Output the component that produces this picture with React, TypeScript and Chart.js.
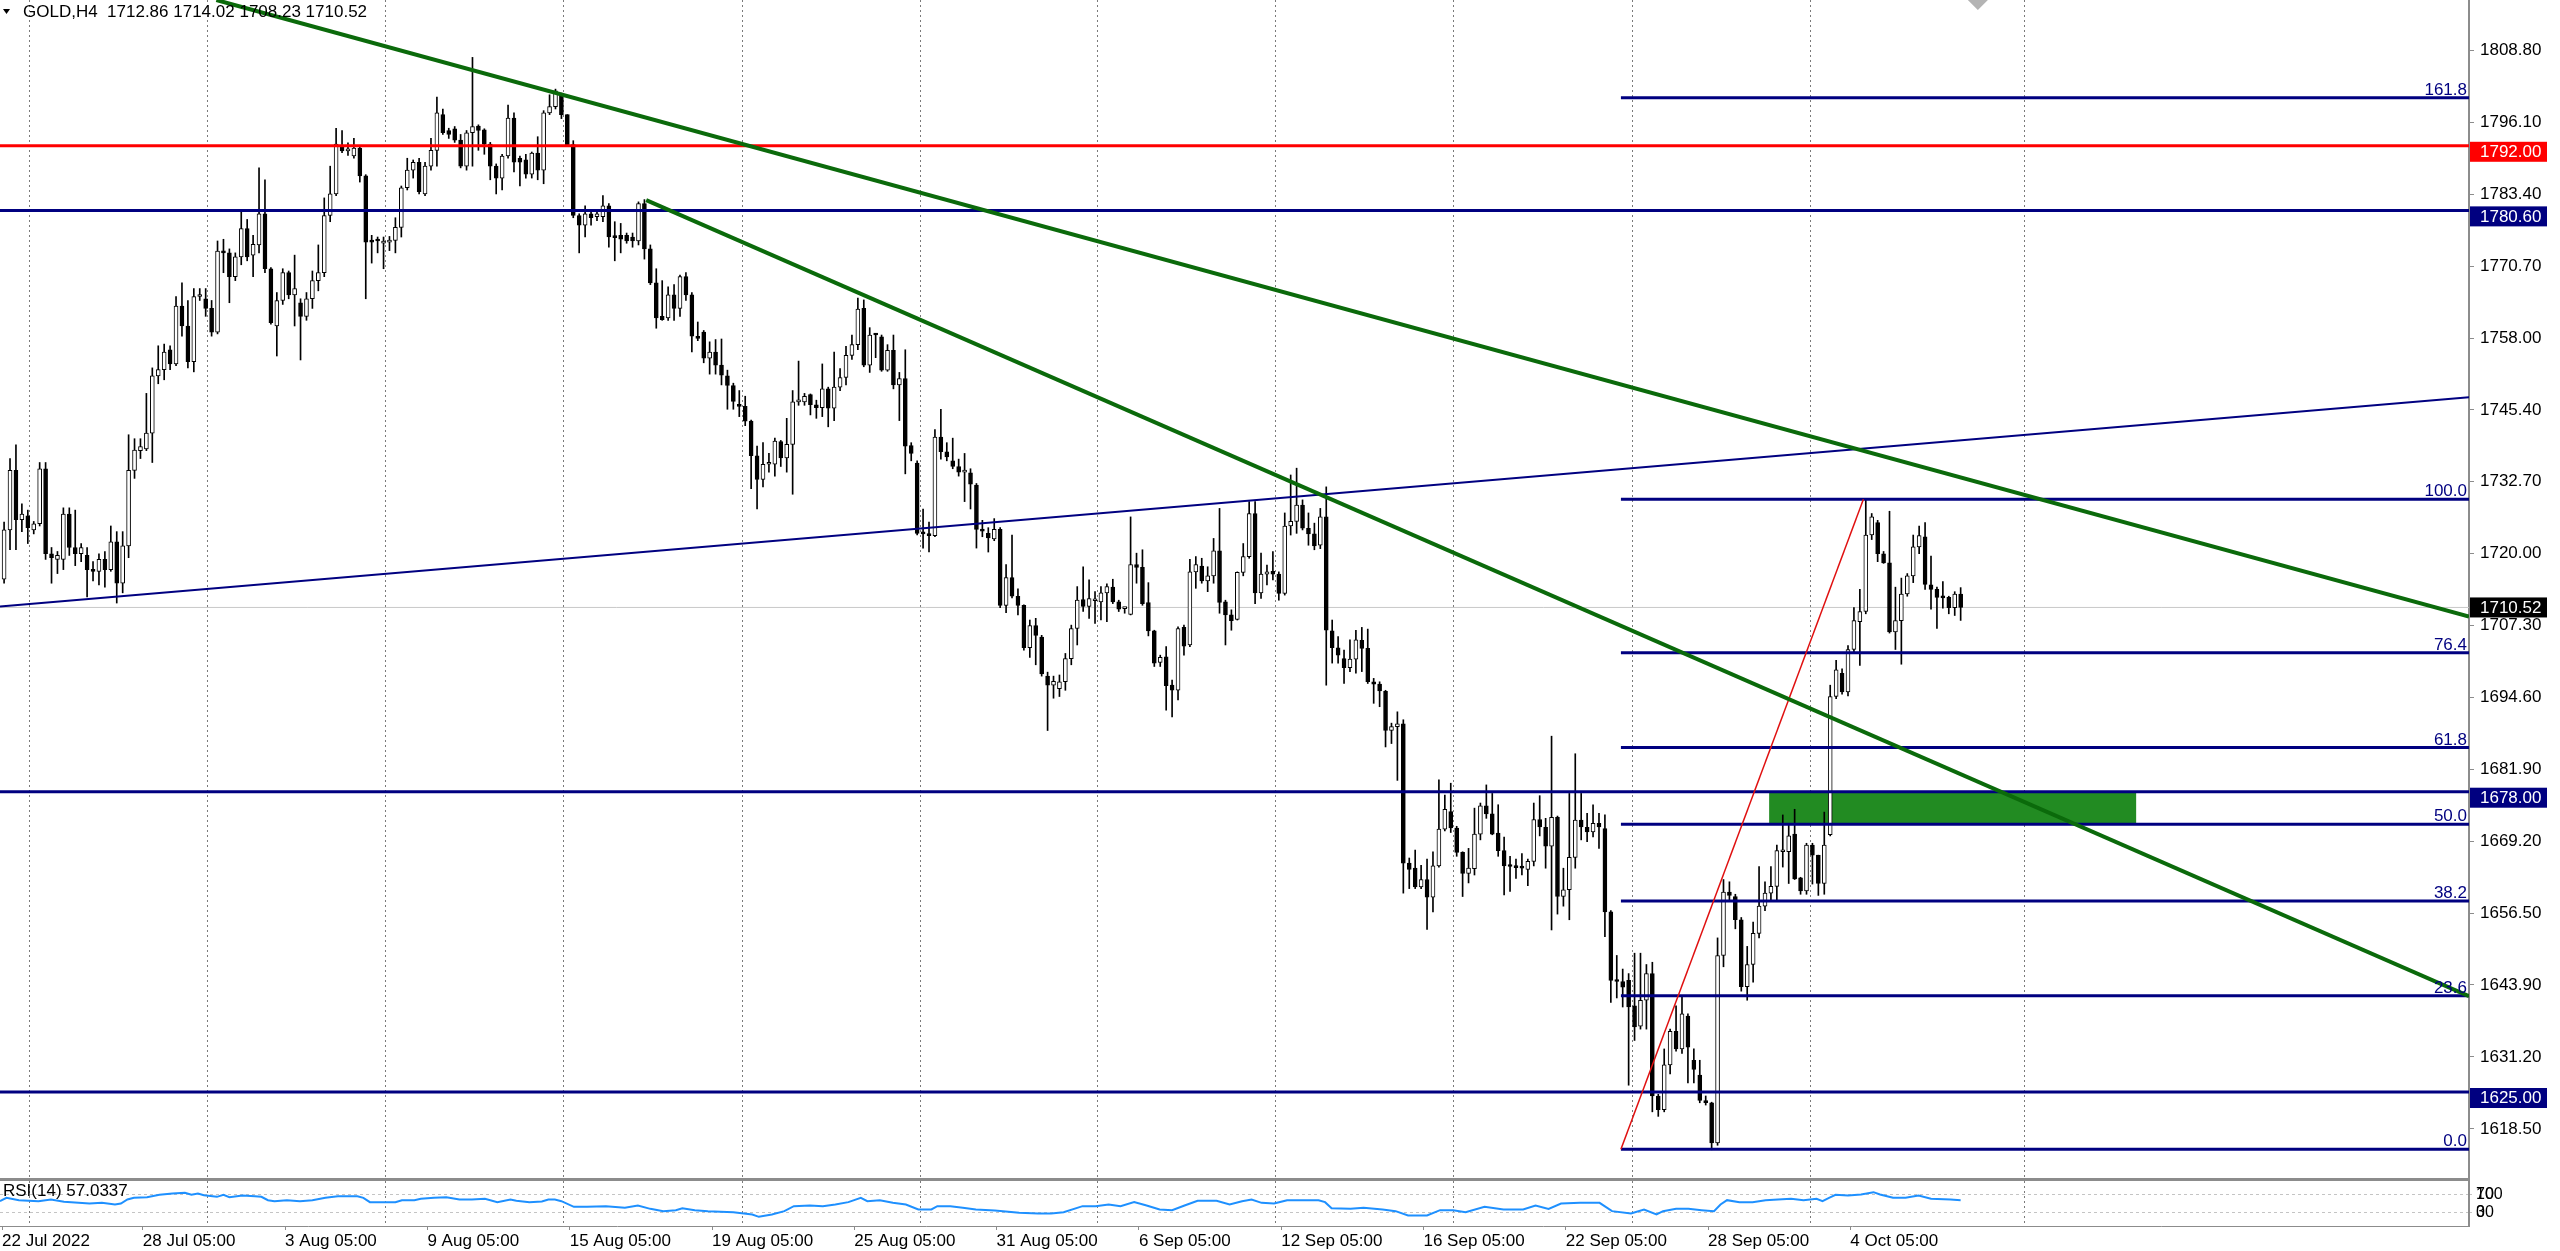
import React, { useEffect, useRef } from 'react';
import { Chart, registerables } from 'chart.js';

Chart.register(...registerables);

const FONT = "'Liberation Sans', Arial, sans-serif";

// ---- candle data (H4 bars, index 0 = leftmost visible bar) ----
const opens = [
1715.5,1724.2,1734.7,1726.0,1726.7,1724.2,1725.3,1735.0,1720.0,1719.0,
1719.0,1727.0,1721.1,1720.0,1719.7,1717.2,1716.9,1719.0,1717.2,1722.1,
1714.8,1721.4,1734.7,1738.2,1738.5,1741.3,1751.4,1752.5,1756.0,1753.5,
1763.7,1760.2,1753.9,1765.4,1765.0,1763.3,1759.1,1773.4,1773.1,1768.9,
1772.4,1777.4,1772.7,1774.5,1780.0,1770.3,1760.2,1764.7,1769.6,1765.7,
1764.3,1761.9,1765.0,1768.2,1769.6,1779.7,1783.5,1791.9,1791.1,1790.2,
1791.6,1786.7,1775.2,1775.3,1774.8,1775.0,1775.3,1777.6,1784.6,1787.7,
1789.1,1783.5,1788.4,1791.2,1797.5,1794.7,1795.0,1793.0,1788.4,1794.3,
1795.5,1794.8,1792.3,1788.4,1786.3,1790.2,1796.9,1789.8,1789.5,1787.0,
1790.7,1787.7,1797.8,1798.9,1801.0,1797.5,1792.2,1779.7,1778.0,1780.0,
1779.5,1779.5,1781.4,1775.9,1776.2,1776.2,1775.9,1775.2,1781.8,1773.8,
1767.8,1761.9,1761.6,1765.7,1763.3,1768.9,1765.7,1758.3,1759.1,1754.5,
1755.6,1753.3,1751.4,1749.7,1746.3,1746.0,1743.4,1737.3,1733.1,1735.8,
1735.8,1739.8,1736.9,1739.3,1746.8,1746.8,1748.1,1746.3,1745.8,1749.1,
1745.7,1749.4,1751.1,1755.0,1756.9,1763.3,1753.3,1758.7,1758.3,1752.4,
1755.9,1749.8,1750.9,1739.1,1736.0,1723.6,1723.4,1723.2,1740.6,1738.0,
1736.4,1735.4,1734.4,1734.3,1732.1,1724.1,1723.6,1722.6,1724.3,1710.9,
1715.8,1712.5,1710.9,1703.4,1707.3,1705.3,1698.4,1696.8,1696.2,1697.4,
1701.5,1706.8,1711.9,1710.7,1711.7,1711.5,1713.1,1714.1,1711.5,1710.3,
1709.3,1718.1,1717.6,1711.4,1706.4,1700.8,1701.8,1696.8,1695.9,1707.0,
1703.9,1716.8,1717.8,1715.2,1716.1,1720.5,1711.5,1709.2,1708.4,1716.7,
1719.5,1727.1,1713.1,1716.4,1716.9,1716.4,1713.0,1724.9,1725.7,1728.6,
1724.5,1723.5,1721.5,1726.5,1706.4,1703.4,1701.5,1699.9,1701.4,1704.7,
1703.3,1697.4,1697.0,1695.7,1688.8,1689.5,1690.0,1665.4,1664.5,1661.2,
1662.5,1659.4,1664.9,1671.4,1674.5,1671.6,1667.3,1663.6,1664.4,1670.5,
1675.5,1674.1,1670.7,1667.6,1664.9,1664.7,1664.6,1664.3,1665.7,1673.1,
1671.7,1668.4,1673.5,1659.5,1660.7,1666.4,1673.0,1671.7,1670.9,1672.4,
1671.5,1656.8,1644.6,1644.5,1644.7,1640.2,1636.6,1641.2,1645.9,1624.3,
1621.9,1629.8,1635.7,1632.6,1638.4,1630.6,1628.0,1623.5,1623.1,1616.0,
1649.1,1660.3,1659.5,1655.4,1643.6,1647.5,1653.0,1657.8,1660.1,1661.3,
1667.4,1667.4,1670.5,1662.8,1660.5,1668.6,1666.8,1661.8,1670.4,1694.8,
1698.9,1695.6,1703.1,1708.0,1709.8,1723.3,1725.5,1720.0,1718.4,1706.2,
1708.2,1712.9,1716.1,1721.2,1723.0,1714.5,1713.7,1712.3,1712.3,1710.5,
1712.86
];
const highs = [
1725.6,1736.8,1739.2,1728.8,1727.7,1725.7,1736.1,1736.1,1721.1,1720.4,
1728.1,1728.1,1727.7,1721.8,1721.1,1718.6,1720.0,1720.4,1724.9,1723.9,
1723.9,1741.0,1740.3,1740.3,1748.3,1752.8,1756.7,1757.0,1756.7,1765.4,
1767.8,1764.7,1766.8,1766.8,1766.8,1764.7,1775.2,1775.5,1773.8,1773.1,
1780.4,1779.0,1776.2,1788.1,1786.0,1770.5,1766.1,1770.3,1769.9,1772.7,
1765.0,1766.1,1769.9,1774.5,1782.8,1788.4,1795.1,1794.7,1792.5,1793.3,
1791.9,1786.9,1776.2,1775.9,1775.9,1776.0,1779.3,1784.9,1789.8,1789.5,
1789.8,1789.1,1793.3,1800.6,1798.5,1795.1,1795.4,1794.0,1794.7,1807.6,
1795.7,1795.0,1792.6,1788.8,1790.5,1799.2,1797.8,1790.2,1790.5,1790.9,
1793.6,1798.2,1801.0,1802.0,1801.3,1797.5,1792.9,1780.0,1781.4,1780.4,
1780.5,1783.2,1781.8,1778.6,1778.3,1776.6,1776.6,1782.1,1782.5,1774.5,
1770.3,1768.2,1767.1,1767.5,1769.2,1769.6,1766.1,1760.9,1759.4,1757.4,
1757.8,1757.9,1752.4,1750.1,1748.8,1747.8,1743.6,1739.0,1739.6,1737.7,
1740.4,1740.0,1743.9,1748.8,1754.0,1748.3,1748.2,1747.1,1753.5,1749.4,
1755.6,1752.7,1756.6,1758.6,1765.1,1764.8,1759.9,1758.9,1758.6,1756.9,
1758.6,1752.0,1756.0,1739.6,1736.4,1727.9,1725.6,1741.9,1745.5,1739.6,
1740.4,1736.7,1737.7,1735.0,1732.4,1725.9,1724.6,1726.2,1724.6,1718.1,
1723.3,1713.8,1711.0,1708.3,1708.6,1705.6,1699.1,1698.4,1698.6,1702.4,
1707.4,1714.2,1717.7,1715.4,1713.3,1714.2,1714.7,1715.5,1711.8,1710.5,
1726.5,1720.1,1720.7,1714.9,1706.5,1702.1,1703.6,1697.7,1707.1,1707.4,
1719.0,1719.5,1719.2,1717.7,1722.7,1728.0,1711.8,1710.1,1716.8,1721.8,
1729.2,1729.2,1720.1,1718.0,1720.4,1716.8,1727.2,1733.9,1735.1,1729.5,
1727.2,1725.4,1728.0,1731.8,1708.3,1705.4,1703.0,1704.8,1706.5,1707.0,
1706.7,1698.0,1697.4,1695.9,1690.1,1692.1,1690.7,1666.3,1667.7,1665.0,
1666.1,1667.4,1680.1,1677.4,1679.5,1671.9,1667.4,1668.0,1675.1,1676.0,
1679.2,1677.7,1675.7,1670.0,1666.6,1666.1,1667.1,1666.1,1676.0,1677.3,
1673.3,1687.8,1673.7,1664.5,1677.7,1684.7,1677.7,1674.2,1675.7,1674.2,
1673.9,1657.0,1649.1,1646.7,1645.9,1649.5,1649.5,1647.5,1647.9,1624.6,
1632.6,1636.1,1640.2,1642.0,1638.8,1632.6,1630.6,1624.3,1623.2,1652.2,
1662.5,1662.1,1659.9,1655.8,1650.7,1655.0,1664.8,1662.1,1664.8,1668.6,
1673.9,1672.3,1674.9,1662.9,1668.9,1668.9,1666.8,1674.4,1696.8,1701.2,
1699.7,1703.8,1710.5,1713.7,1729.5,1727.1,1725.9,1720.4,1727.5,1714.1,
1715.7,1716.5,1723.3,1724.9,1725.5,1719.6,1714.1,1715.1,1712.5,1713.3,
1714.02
];
const lows = [
1714.8,1720.7,1720.7,1723.9,1721.8,1723.5,1724.9,1719.0,1714.8,1716.5,
1717.2,1719.7,1717.9,1718.6,1712.4,1715.2,1714.5,1714.1,1716.9,1711.3,
1713.1,1719.3,1733.3,1736.8,1738.2,1736.1,1750.0,1750.7,1752.5,1753.2,
1758.4,1752.8,1752.1,1764.7,1761.9,1758.4,1758.8,1769.6,1764.3,1768.2,
1771.0,1771.7,1768.9,1773.1,1769.6,1760.5,1754.9,1764.0,1765.0,1760.2,
1754.2,1761.2,1763.3,1766.4,1768.9,1778.6,1783.2,1790.8,1790.3,1789.8,
1785.6,1765.0,1771.3,1773.1,1770.3,1773.5,1773.1,1775.9,1784.2,1786.3,
1783.5,1783.2,1787.7,1788.4,1794.0,1793.3,1792.6,1788.1,1787.7,1788.4,
1791.2,1790.5,1786.0,1783.5,1784.2,1789.8,1787.4,1784.9,1786.3,1786.3,
1786.0,1785.3,1797.5,1798.5,1796.8,1791.9,1779.3,1773.1,1775.9,1778.0,
1778.8,1778.6,1774.1,1771.7,1773.1,1774.8,1774.1,1774.5,1772.0,1767.5,
1759.8,1761.2,1761.2,1761.2,1761.9,1764.7,1755.6,1757.6,1753.7,1751.7,
1751.7,1749.8,1745.5,1745.5,1744.2,1742.6,1731.5,1727.9,1731.8,1734.4,
1733.7,1735.4,1734.4,1730.5,1746.2,1746.2,1744.5,1743.9,1744.2,1742.4,
1743.5,1748.8,1749.8,1754.3,1756.0,1753.0,1752.0,1754.6,1752.2,1752.2,
1749.1,1743.5,1734.1,1736.4,1723.3,1721.0,1720.3,1723.0,1736.7,1736.4,
1735.0,1733.7,1729.2,1727.9,1721.0,1723.0,1720.3,1722.3,1710.5,1709.6,
1712.2,1709.2,1703.0,1701.7,1700.4,1698.4,1688.8,1694.5,1694.8,1695.9,
1700.4,1703.9,1709.8,1708.6,1707.7,1708.3,1708.0,1711.2,1709.8,1709.5,
1709.2,1714.8,1710.9,1705.5,1700.1,1700.1,1692.4,1691.2,1694.2,1702.1,
1703.6,1713.9,1714.8,1713.3,1714.8,1709.5,1703.9,1706.5,1708.3,1716.1,
1719.2,1711.2,1712.1,1714.5,1715.4,1711.8,1712.7,1723.3,1723.6,1724.2,
1721.5,1720.7,1720.9,1696.8,1700.7,1700.7,1697.1,1699.2,1698.9,1699.2,
1697.1,1693.6,1693.0,1685.9,1686.5,1680.0,1660.1,1660.9,1660.9,1660.9,
1653.7,1656.8,1664.7,1671.1,1670.8,1666.6,1659.5,1661.9,1663.3,1669.5,
1673.3,1670.4,1666.6,1659.8,1660.4,1662.7,1663.3,1661.4,1664.9,1670.2,
1664.5,1653.6,1656.4,1657.8,1655.4,1664.5,1669.5,1669.2,1670.0,1668.0,
1652.4,1640.8,1641.6,1640.0,1626.2,1634.1,1636.1,1636.1,1621.5,1620.7,
1621.5,1628.2,1632.2,1631.8,1626.6,1626.6,1623.1,1622.7,1614.8,1615.6,
1647.1,1658.9,1653.8,1642.8,1641.2,1644.4,1652.2,1657.0,1658.9,1658.9,
1664.7,1661.8,1662.5,1659.9,1659.9,1661.7,1659.7,1659.9,1670.2,1694.4,
1695.2,1694.9,1702.7,1700.3,1709.4,1722.5,1718.6,1718.3,1706.0,1703.1,
1700.5,1712.5,1714.9,1720.0,1713.7,1710.2,1706.8,1710.4,1709.4,1709.1,
1708.23
];
const closes = [
1724.2,1734.7,1726.0,1727.0,1724.6,1725.3,1735.0,1720.0,1719.3,1719.7,
1727.0,1721.1,1720.0,1721.1,1717.2,1716.9,1719.0,1717.2,1722.1,1714.8,
1721.4,1734.7,1738.3,1738.9,1741.3,1751.4,1752.5,1755.6,1753.5,1763.7,
1760.2,1753.9,1765.4,1765.7,1763.3,1759.1,1773.4,1773.1,1768.9,1772.4,
1777.4,1772.4,1774.6,1780.0,1770.3,1760.8,1764.7,1769.6,1765.7,1766.8,
1761.9,1765.0,1768.2,1769.6,1779.7,1783.5,1792.3,1791.1,1791.4,1791.6,
1786.7,1775.0,1775.0,1775.2,1775.2,1775.3,1777.6,1784.6,1787.7,1789.1,
1783.9,1788.4,1791.2,1797.8,1794.3,1794.0,1793.0,1788.4,1794.3,1795.4,
1794.7,1792.3,1788.4,1786.3,1790.2,1796.9,1789.1,1789.1,1787.0,1790.7,
1787.7,1797.8,1798.9,1801.7,1797.5,1792.2,1779.7,1778.0,1780.0,1779.3,
1780.0,1781.4,1775.9,1775.8,1775.5,1775.2,1775.2,1781.8,1773.8,1767.8,
1761.6,1761.3,1765.7,1763.3,1768.9,1765.7,1758.4,1758.0,1754.5,1755.6,
1753.3,1751.5,1749.7,1746.9,1746.0,1743.4,1737.3,1733.1,1735.8,1735.9,
1739.9,1736.9,1739.3,1746.8,1746.9,1747.8,1746.3,1745.8,1749.1,1745.7,
1749.4,1751.1,1755.0,1756.9,1763.2,1753.3,1758.6,1758.6,1752.4,1755.9,
1749.8,1750.9,1739.0,1737.7,1723.6,1723.5,1723.2,1740.6,1738.0,1737.1,
1735.4,1734.4,1734.5,1732.3,1724.3,1724.0,1722.8,1724.3,1710.9,1715.8,
1712.5,1710.9,1703.4,1707.3,1705.6,1698.8,1696.8,1697.5,1697.4,1701.5,
1706.8,1711.8,1710.7,1712.1,1711.8,1713.1,1714.2,1711.5,1710.2,1710.4,
1718.1,1717.6,1711.2,1706.4,1700.7,1701.7,1696.7,1695.9,1706.8,1703.7,
1716.8,1718.1,1715.2,1716.1,1720.5,1711.4,1709.2,1708.2,1716.7,1719.5,
1727.1,1713.1,1716.4,1716.8,1716.4,1713.0,1724.9,1725.7,1728.6,1724.5,
1723.5,1721.4,1726.5,1706.5,1703.4,1702.1,1699.9,1701.4,1704.8,1703.3,
1697.4,1697.0,1695.8,1688.8,1689.5,1690.0,1665.4,1664.3,1661.2,1662.5,
1659.4,1664.9,1671.4,1674.9,1671.6,1667.3,1663.6,1664.5,1670.5,1675.5,
1674.1,1670.5,1667.6,1664.9,1664.8,1664.6,1664.5,1665.7,1673.1,1671.8,
1668.4,1673.5,1659.5,1660.7,1666.4,1673.0,1671.8,1670.9,1672.4,1671.8,
1656.8,1644.7,1644.5,1643.5,1640.0,1636.5,1641.2,1645.9,1624.3,1621.9,
1629.8,1635.7,1632.6,1638.8,1632.9,1629.0,1623.5,1623.1,1616.0,1649.1,
1660.3,1659.7,1655.4,1643.6,1647.5,1653.0,1657.8,1660.1,1661.3,1667.6,
1667.5,1670.2,1662.6,1660.5,1668.6,1666.8,1661.8,1668.6,1694.8,1699.5,
1695.6,1703.1,1708.2,1709.8,1723.3,1726.5,1720.0,1718.4,1706.2,1708.2,
1712.9,1716.1,1721.2,1723.2,1714.6,1713.7,1712.3,1712.2,1710.5,1712.9,
1710.52
];

// ---- RSI(14) polyline (bar index, value) ----
const rsiBars = [
-0.7,0.4,2.5,5.8,7.9,10.1,14.4,16.5,18.7,19.7,
20.8,21.9,24.1,26.2,28.4,30.5,31.6,32.7,33.7,35.9,
37.0,38.0,40.2,42.3,43.4,44.5,45.6,47.7,49.9,52.0,
54.2,56.3,59.6,60.6,61.7,66.0,67.1,69.2,70.3,72.5,
74.6,76.8,78.9,81.1,83.2,85.4,86.4,88.6,90.7,91.8,
92.9,94.0,96.1,98.3,101.5,104.7,106.9,109.0,111.2,113.3,
114.4,116.5,118.7,123.0,126.2,127.3,129.5,131.6,133.2,135.9,
138.1,140.2,142.4,144.5,145.6,147.7,149.9,152.1,154.2,156.4,
157.4,159.6,161.7,163.9,167.1,
171.2,174.4,176.6,178.7,181.9,184.1,186.3,188.3,190.6,192.7,
194.9,197.0,199.1,201.3,204.5,206.7,208.8,210.4,212.1,214.2,
216.4,218.5,221.7,222.8,223.9,227.1,229.3,232.5,234.7,236.8,
240.0,242.2,244.4,246.5,249.7,252.9,256.2,258.3,260.5,262.6,
265.8,269.1,271.2,274.4,276.6,278.7,279.8,282.0,284.1,286.3,
288.4,289.5,290.6,292.7,294.9,297.1,299.2,301.4,303.5,305.7,
306.7,307.8,308.9,311.0,313.2,315.3,316.4,318.6,320.7,322.9,
325.0,328.3,330.0
];
const rsiValues = [
55.2,62.6,57.4,55.2,58.9,53.7,50.0,51.5,47.8,50.0,
58.9,62.6,64.1,69.3,72.2,73.7,69.3,72.2,68.5,64.8,
69.3,64.1,67.8,66.3,64.8,57.4,55.2,57.4,55.2,57.4,
62.6,66.3,66.3,62.6,53.0,53.0,57.4,57.4,60.4,62.6,
64.1,58.9,58.9,60.4,53.0,58.9,55.9,53.0,54.4,58.9,
58.9,55.2,42.6,42.6,44.1,40.4,45.6,38.1,33.0,35.2,
39.6,35.2,33.0,30.7,25.6,20.4,25.6,33.0,44.1,45.6,
44.1,47.8,53.0,62.6,55.2,57.4,51.5,47.8,36.7,36.7,
44.1,44.1,40.4,36.7,34.4,
29.3,27.8,27.8,30.7,44.1,44.1,47.8,44.1,53.0,45.6,
36.7,35.2,45.6,55.9,55.9,47.8,55.2,58.9,51.5,50.0,
57.4,57.4,57.4,53.0,39.6,38.1,40.4,36.7,33.0,23.3,
23.3,35.2,35.2,30.7,42.6,36.7,36.7,45.6,38.1,50.0,
51.5,51.5,33.0,27.8,36.7,25.6,33.0,38.1,38.1,35.2,
33.0,47.8,57.4,53.0,53.0,57.4,58.9,60.4,57.4,60.4,
55.2,62.6,69.3,67.8,70.0,75.2,70.0,62.6,62.6,67.8,
60.4,58.9,57.0337
];
const rsiLevels = [70, 30];
const rsiLevelExtra = ['100', '0'];
const rsiTitle = 'RSI(14) 57.0337';

// ---- axes ----
const priceTicks = [1808.8,1796.1,1783.4,1770.7,1758.0,1745.4,1732.7,1720.0,1707.3,1694.6,1681.9,1669.2,1656.5,1643.9,1631.2,1618.5];
const timeLabelBars = [-0.35,23.4,47.4,71.4,95.4,119.4,143.4,167.4,191.4,215.4,239.4,263.4,287.4,311.4];
const timeLabels = ['22 Jul 2022','28 Jul 05:00','3 Aug 05:00','9 Aug 05:00','15 Aug 05:00','19 Aug 05:00','25 Aug 05:00','31 Aug 05:00','6 Sep 05:00','12 Sep 05:00','16 Sep 05:00','22 Sep 05:00','28 Sep 05:00','4 Oct 05:00'];
const gridBars = [4.3,34.3,64.4,94.4,124.5,154.5,184.5,214.5,244.5,274.6,304.7,340.7];
const X_MIN = -0.69;
const X_MAX = 415.74;
const Y_MIN = 1609.47;
const Y_MAX = 1817.73;

// ---- objects ----
const hLinePrices = [1792.0, 1780.6, 1678.0, 1625.0];
const hLineColors = ['#ff0000', '#000080', '#000080', '#000080'];
const bidPrice = 1710.52;
const headerText = 'GOLD,H4  1712.86 1714.02 1708.23 1710.52';
// trend lines: [bar1, price1, bar2, price2]
const greenUpper = [35.8, 1817.73, 415.74, 1708.9];
const greenLower = [108.3, 1782.4, 415.74, 1641.9];
const navyRising = [-0.69, 1710.7, 415.74, 1747.6];
// fibonacci: anchors and levels
const fibAnchorBars = [272.7, 313.6];
const fibAnchorPrices = [1614.9, 1729.6];
const fibLevels = [0, 23.6, 38.2, 50.0, 61.8, 76.4, 100.0, 161.8];
const fibLabels = ['0.0', '23.6', '38.2', '50.0', '61.8', '76.4', '100.0', '161.8'];
// green zone rectangle
const zoneBars = [297.7, 359.6];
const zonePrices = [1672.25, 1678.0];
const shiftMarkerBar = 332.9;

const NAVY = '#000080';
const GREEN = '#0b6a0b';
const FRAME = '#8c8c8c';

function fibPrice(lvl: number) {
  return fibAnchorPrices[0] + (fibAnchorPrices[1] - fibAnchorPrices[0]) * lvl / 100;
}

function seg(pts: number[], color: string, width: number, order = 1) {
  return {
    type: 'line' as const,
    data: [{ x: pts[0], y: pts[1] }, { x: pts[2], y: pts[3] }],
    borderColor: color,
    borderWidth: width,
    pointRadius: 0,
    pointHoverRadius: 0,
    fill: false,
    tension: 0,
    order,
  };
}

const mainPlugin = {
  id: 'mt4main',
  beforeDatasetsDraw(chart: any) {
    const { ctx, scales } = chart;
    const xs = scales.x, ys = scales.y;
    const x1 = xs.getPixelForValue(zoneBars[0]);
    const x2 = xs.getPixelForValue(zoneBars[1]);
    const y1 = ys.getPixelForValue(zonePrices[1]);
    const y2 = ys.getPixelForValue(zonePrices[0]);
    ctx.save();
    ctx.fillStyle = '#228b22';
    ctx.fillRect(x1, y1, x2 - x1, y2 - y1);
    ctx.restore();
  },
  afterDraw(chart: any) {
    const { ctx, scales, chartArea } = chart;
    const xs = scales.x, ys = scales.y;
    ctx.save();
    // bottom frame of main window
    ctx.fillStyle = FRAME;
    ctx.fillRect(0, chart.height - 2, chartArea.right + 1, 2);

    // fib labels
    ctx.font = `17px ${FONT}`;
    ctx.fillStyle = NAVY;
    ctx.textAlign = 'right';
    ctx.textBaseline = 'alphabetic';
    fibLevels.forEach((lvl, i) => {
      const y = ys.getPixelForValue(fibPrice(lvl));
      ctx.fillText(fibLabels[i], chartArea.right - 2, y - 3);
    });

    // header
    ctx.fillStyle = '#000';
    ctx.beginPath();
    ctx.moveTo(3, 9); ctx.lineTo(10, 9); ctx.lineTo(6.5, 14); ctx.closePath();
    ctx.fill();
    ctx.textAlign = 'left';
    ctx.textBaseline = 'middle';
    ctx.fillText(headerText, 23, 12.5);

    // price boxes on the axis
    const bx = chartArea.right + 1;
    const bw = 77;
    hLinePrices.forEach((p, i) => {
      const y = ys.getPixelForValue(p);
      ctx.fillStyle = hLineColors[i];
      ctx.fillRect(bx, y - 4, bw, 20);
      ctx.fillStyle = '#fff';
      ctx.fillText(p.toFixed(2), chartArea.right + 11, y + 6.5);
    });
    const yb = ys.getPixelForValue(bidPrice);
    ctx.fillStyle = '#000';
    ctx.fillRect(bx, yb - 10, bw, 20);
    ctx.fillStyle = '#fff';
    ctx.fillText(bidPrice.toFixed(2), chartArea.right + 11, yb + 0.5);

    // chart-shift marker
    const sx = xs.getPixelForValue(shiftMarkerBar);
    ctx.fillStyle = '#b4b4b4';
    ctx.beginPath();
    ctx.moveTo(sx - 10, 0); ctx.lineTo(sx + 10, 0); ctx.lineTo(sx, 10); ctx.closePath();
    ctx.fill();
    ctx.restore();
  },
};

const rsiPlugin = {
  id: 'mt4rsi',
  afterDraw(chart: any) {
    const { ctx, scales, chartArea } = chart;
    const ys = scales.y;
    ctx.save();
    ctx.fillStyle = FRAME;
    ctx.fillRect(0, 0, chartArea.right + 1, 1);
    ctx.font = `17px ${FONT}`;
    ctx.fillStyle = '#000';
    ctx.textAlign = 'left';
    ctx.textBaseline = 'top';
    ctx.fillText(rsiTitle, 3, 3);
    ctx.font = `16px ${FONT}`;
    ctx.textBaseline = 'middle';
    rsiLevels.forEach((lv, i) => {
      ctx.fillText(rsiLevelExtra[i], chartArea.right + 7, ys.getPixelForValue(lv));
    });
    ctx.restore();
  },
};

function mainConfig(): any {
  const idx = closes.map((_, i) => i);
  const bull = idx.map(i => closes[i] >= opens[i]);
  const datasets: any[] = [
    seg([X_MIN - 1, bidPrice, X_MAX + 1, bidPrice], '#c8c8c8', 1, 40),
    {
      type: 'bar',
      data: idx.map(i => ({ x: i, y: [lows[i], highs[i]] })),
      backgroundColor: '#000',
      borderWidth: 0,
      barThickness: 1,
      grouped: false,
      order: 30,
    },
    {
      type: 'bar',
      data: idx.map(i => ({ x: i, y: [opens[i], closes[i]] })),
      backgroundColor: bull.map(b => (b ? '#ffffff' : '#000000')),
      borderColor: '#000',
      borderWidth: 1,
      borderSkipped: false,
      barThickness: 4,
      minBarLength: 2,
      grouped: false,
      order: 20,
    },
    seg(navyRising, NAVY, 2, 5),
    ...hLinePrices.map((p, i) => seg([X_MIN - 1, p, X_MAX + 1, p], hLineColors[i], 3, 4)),
    ...fibLevels.map(l => seg([fibAnchorBars[0], fibPrice(l), X_MAX + 1, fibPrice(l)], NAVY, 3, 4)),
    seg([fibAnchorBars[0], fibAnchorPrices[0], fibAnchorBars[1], fibAnchorPrices[1]], '#e01010', 1.5, 3),
    seg(greenUpper, GREEN, 4, 2),
    seg(greenLower, GREEN, 4, 2),
  ];
  return {
    type: 'bar',
    data: { datasets },
    plugins: [mainPlugin],
    options: {
      animation: false,
      responsive: false,
      devicePixelRatio: 1,
      events: [],
      layout: { padding: 0 },
      plugins: { legend: { display: false }, tooltip: { enabled: false } },
      scales: {
        x: {
          type: 'linear', position: 'top', min: X_MIN, max: X_MAX, offset: false,
          afterBuildTicks: (s: any) => { s.ticks = gridBars.map(v => ({ value: v })); },
          afterFit: (s: any) => { s.height = 0; s.paddingLeft = 0; s.paddingRight = 0; },
          ticks: { display: false },
          grid: { display: true, offset: false, drawOnChartArea: true, drawTicks: false, color: '#7a7a7a', lineWidth: 1 },
          border: { display: false, dash: [2, 3] },
        },
        y: {
          type: 'linear', position: 'right', min: Y_MIN, max: Y_MAX,
          afterBuildTicks: (s: any) => { s.ticks = priceTicks.map(v => ({ value: v })); },
          afterFit: (s: any) => { s.width = 91; s.paddingTop = 0; s.paddingBottom = 0; },
          ticks: {
            autoSkip: false,
            callback: (v: any) => Number(v).toFixed(2),
            font: { family: FONT, size: 17 },
            color: '#000',
            padding: 6,
          },
          grid: { drawOnChartArea: false, drawTicks: true, tickLength: 5, color: FRAME },
          border: { display: true, color: FRAME, width: 2 },
        },
      },
    },
  };
}

function rsiConfig(): any {
  return {
    type: 'line',
    data: {
      datasets: [
        {
          data: rsiBars.map((x, i) => ({ x, y: rsiValues[i] })),
          borderColor: '#1e90ff',
          borderWidth: 2,
          pointRadius: 0,
          tension: 0,
          fill: false,
        },
      ],
    },
    plugins: [rsiPlugin],
    options: {
      animation: false,
      responsive: false,
      devicePixelRatio: 1,
      events: [],
      layout: { padding: { top: 1, left: 0, right: 0, bottom: 0 } },
      plugins: { legend: { display: false }, tooltip: { enabled: false } },
      scales: {
        x: {
          type: 'linear', position: 'bottom', min: X_MIN, max: X_MAX, offset: false,
          afterBuildTicks: (s: any) => { s.ticks = timeLabelBars.map(v => ({ value: v })); },
          afterFit: (s: any) => { s.height = 25; s.paddingLeft = 0; s.paddingRight = 0; },
          ticks: {
            autoSkip: false, maxRotation: 0, minRotation: 0, align: 'start', padding: 1,
            font: { family: FONT, size: 17 }, color: '#000',
            callback: (_v: any, i: number) => timeLabels[i],
          },
          grid: { offset: false, drawOnChartArea: false, drawTicks: true, tickLength: 4, color: FRAME },
          border: { display: true, color: FRAME, width: 1 },
        },
        xg: {
          type: 'linear', position: 'top', min: X_MIN, max: X_MAX, offset: false,
          afterBuildTicks: (s: any) => { s.ticks = gridBars.map(v => ({ value: v })); },
          afterFit: (s: any) => { s.height = 0; s.paddingLeft = 0; s.paddingRight = 0; },
          ticks: { display: false },
          grid: { offset: false, drawOnChartArea: true, drawTicks: false, color: '#7a7a7a', lineWidth: 1 },
          border: { display: false, dash: [2, 3] },
        },
        y: {
          type: 'linear', position: 'right', min: 0, max: 100,
          afterBuildTicks: (s: any) => { s.ticks = rsiLevels.map(v => ({ value: v })); },
          afterFit: (s: any) => { s.width = 91; s.paddingTop = 0; s.paddingBottom = 0; },
          ticks: { autoSkip: false, font: { family: FONT, size: 16 }, color: '#000', padding: 4, callback: (v: any) => String(v) },
          grid: { drawOnChartArea: true, drawTicks: true, tickLength: 3, color: '#c4c4c4' },
          border: { display: true, color: FRAME, width: 2, dash: [3, 3] },
        },
      },
    },
  };
}

export default function App() {
  const mainRef = useRef<HTMLCanvasElement>(null);
  const rsiRef = useRef<HTMLCanvasElement>(null);
  useEffect(() => {
    const a = new Chart(mainRef.current as HTMLCanvasElement, mainConfig());
    const b = new Chart(rsiRef.current as HTMLCanvasElement, rsiConfig());
    return () => { a.destroy(); b.destroy(); };
  }, []);
  return (
    <div style={{ position: 'fixed', left: 0, top: 0, width: 2560, height: 1251, background: '#fff', overflow: 'hidden' }}>
      <canvas ref={mainRef} width={2560} height={1180} style={{ position: 'absolute', left: 0, top: 0 }} />
      <canvas ref={rsiRef} width={2560} height={71} style={{ position: 'absolute', left: 0, top: 1180 }} />
    </div>
  );
}
